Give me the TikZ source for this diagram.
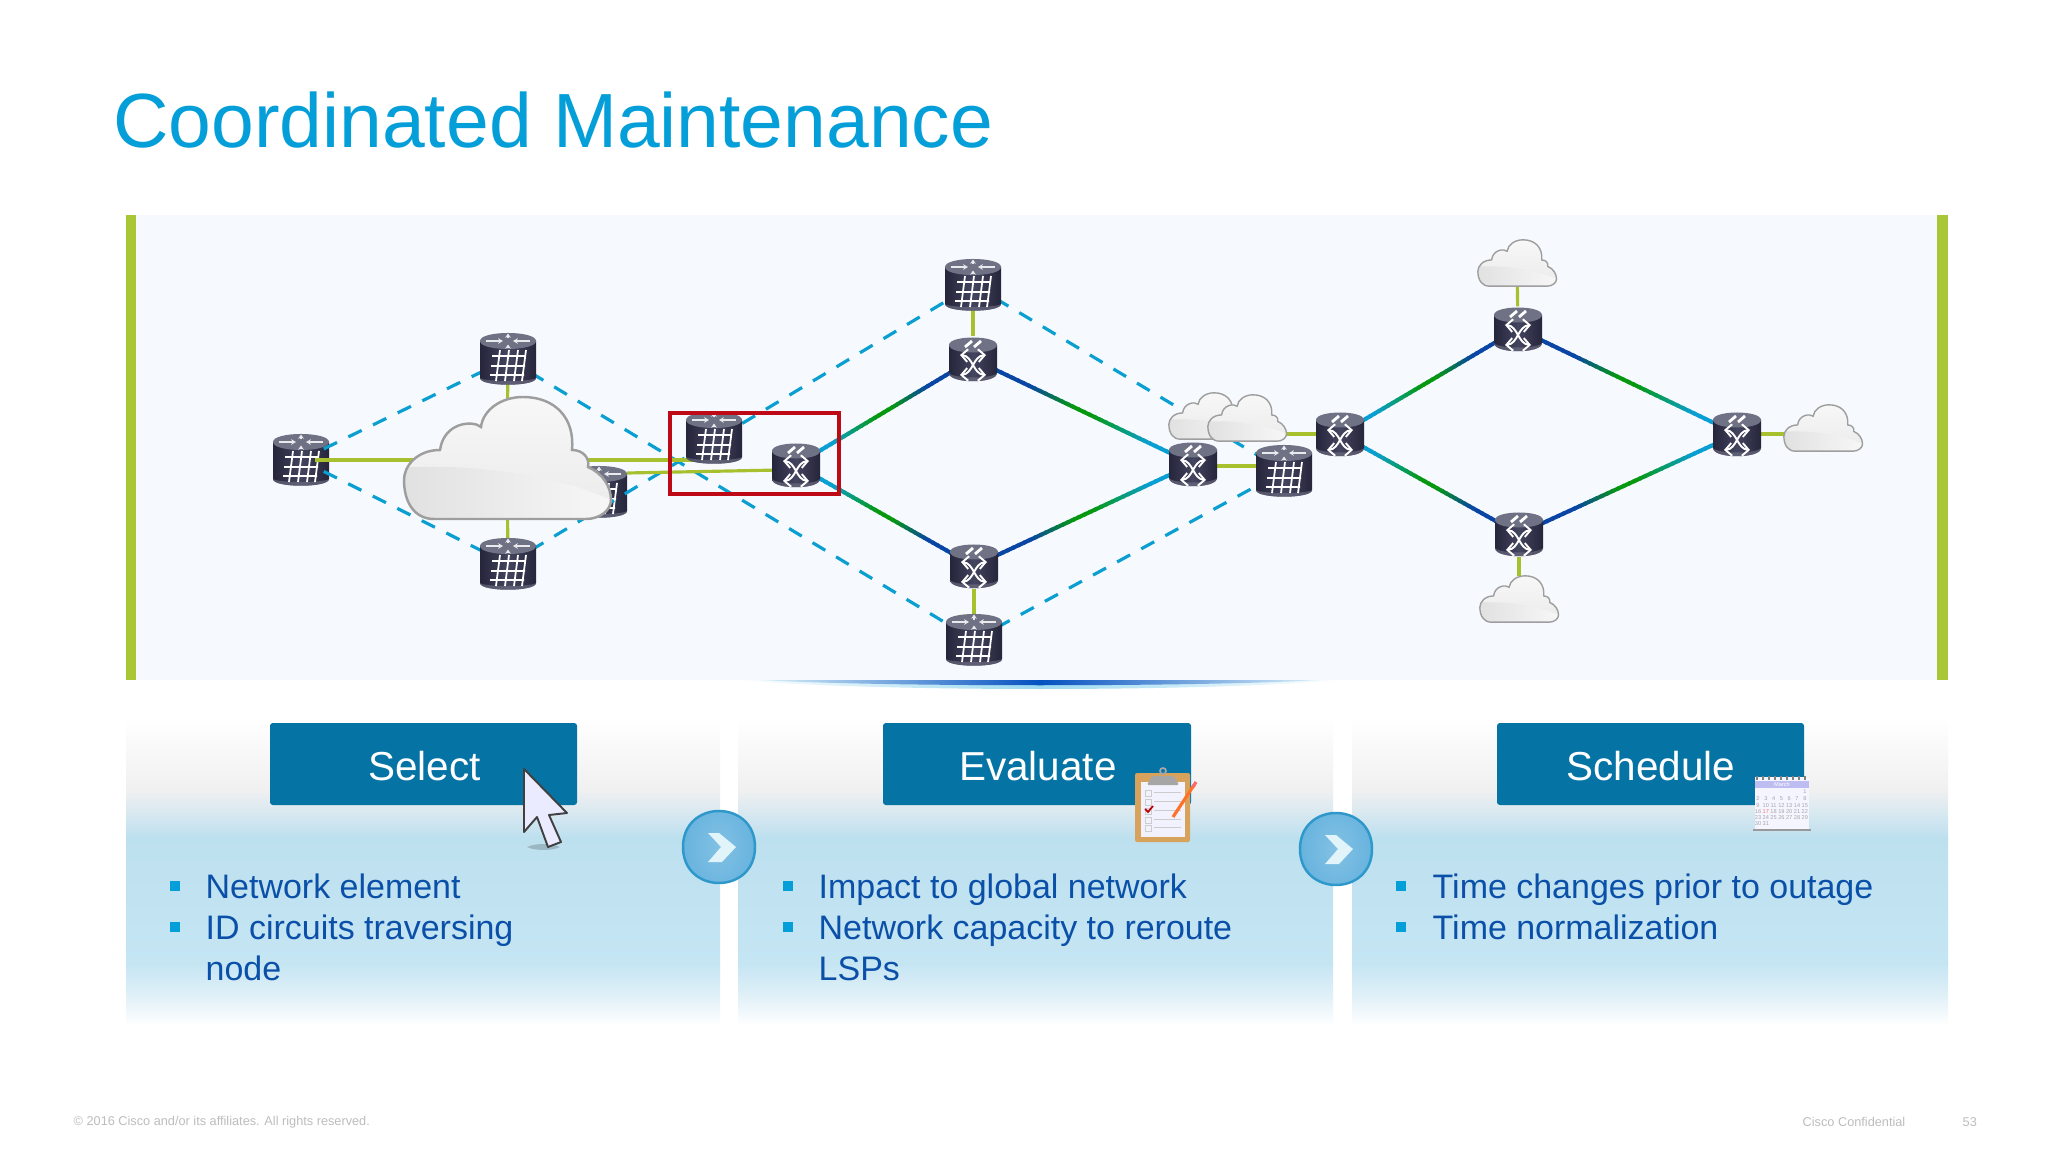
\documentclass[tikz,border=0pt]{standalone}
\usepackage{fontspec}
\setmainfont{Liberation Sans}
\usetikzlibrary{calc,arrows.meta}

\definecolor{ciscoblue}{HTML}{049FD9}
\definecolor{bodyblue}{HTML}{0B50A8}
\definecolor{btnblue}{HTML}{0673A5}
\definecolor{lime}{HTML}{A6C02E}
\definecolor{limebar}{HTML}{A9C637}
\definecolor{panelbg}{HTML}{F6FAFE}
\definecolor{dashblue}{HTML}{0A9FD0}
\definecolor{boxred}{HTML}{BE0A16}
\definecolor{gcyan}{HTML}{0A9FD3}
\definecolor{ggreen}{HTML}{06990F}
\definecolor{gnavy}{HTML}{0845A5}
\definecolor{footgrey}{HTML}{BDBDBD}
\definecolor{stepgrey}{HTML}{F0F0F1}
\definecolor{stepblue}{HTML}{BDE0EF}
\definecolor{stepblueb}{HTML}{C5E5F3}
\definecolor{stepbluec}{HTML}{E2F1F8}
\definecolor{devdark}{HTML}{25263B}
\definecolor{devmid}{HTML}{43445E}
\definecolor{devtop}{HTML}{6F7284}
\definecolor{arrowfill}{HTML}{6DB6E0}
\definecolor{arrowrim}{HTML}{2E98CB}
\definecolor{boardtan}{HTML}{D7A35C}

% connector with three colour stops, drawn as short pieces between two nodes
\newcommand{\gradlink}[5]{%
  \foreach \i in {0,...,39}{%
    \pgfmathsetmacro\ta{\i/40}%
    \pgfmathsetmacro\tb{min((\i+1.4)/40,1)}%
    \pgfmathsetmacro\tm{(\i+.5)/40}%
    \pgfmathtruncatemacro\mixa{max(0,min(100,(0.46-\tm)/0.2*100))}%
    \pgfmathtruncatemacro\mixb{max(0,min(100,(\tm-0.54)/0.26*100))}%
    \ifnum\i<20
      \draw[gradline,color={#3!\mixa!#4}] ($(#1.center)!\ta!(#2.center)$) -- ($(#1.center)!\tb!(#2.center)$);
    \else
      \draw[gradline,color={#5!\mixb!#4}] ($(#1.center)!\ta!(#2.center)$) -- ($(#1.center)!\tb!(#2.center)$);
    \fi
  }%
}

\tikzset{
  x=0.01cm, y=-0.01cm,
  dev/.style={rectangle,draw=none,inner sep=0pt,minimum size=0.44cm},
  dashlink/.style={dashblue,line width=0.9pt,dash pattern=on 4.2pt off 3.6pt},
  limelink/.style={lime,line width=0.9pt},
  gradline/.style={line width=1.15pt},
  title/.style={font=\fontsize{21.85}{26}\selectfont,text=ciscoblue,inner sep=0pt,anchor=west},
  button/.style={fill=btnblue,rounded corners=0.8pt},
  btntext/.style={font=\fontsize{11.5}{14}\selectfont,text=white,inner sep=0pt},
  item/.style={font=\fontsize{9.66}{11.66}\selectfont,text=bodyblue,inner sep=0pt,anchor=north west,align=left},
  foot/.style={font=\fontsize{3.62}{4}\selectfont,text=footgrey,inner sep=0pt,anchor=west},
  calnum/.style={font=\fontsize{1.6}{2}\selectfont,text=#1,inner sep=0pt},
  pics/router/.style={code={
    \shade[left color=devdark,right color=devdark,middle color=devmid]
      (-28,-18) -- (-28,19) .. controls (-28,28) and (28,28) .. (28,19) -- (28,-18) -- cycle;
    \fill[devmid!75!white,opacity=.6] (-28,19) .. controls (-28,28) and (28,28) .. (28,19)
      .. controls (24,23) and (-24,23) .. cycle;
    \fill[devtop] (-28,-18) .. controls (-28,-28.7) and (28,-28.7) .. (28,-18)
      .. controls (28,-7.3) and (-28,-7.3) .. cycle;
    \draw[white!85!devtop,line width=.4pt,-{Stealth[length=1.4pt,width=1.6pt]}] (-22,-18) -- (-5,-18);
    \draw[white!85!devtop,line width=.4pt,-{Stealth[length=1.4pt,width=1.6pt]}] (22,-18) -- (5,-18);
    \draw[white!85!devtop,line width=.4pt,-{Stealth[length=1.2pt,width=1.6pt]}] (0,-11) -- (0,-14.5);
    \draw[white!85!devtop,line width=.4pt,-{Stealth[length=1.2pt,width=1.6pt]}] (0,-20.5) -- (0,-25.5);
    \draw[white,line width=.5pt]
      (-16,-3) -- (18,-3) (-17,7) -- (17,7) (-18,16) -- (16,16)
      (-8,-9) -- (-12,22) (1,-9) -- (-3,22) (10,-9) -- (6,22) (18,-9) -- (14,22);
  }},
  pics/switch/.style={code={
    \shade[left color=devdark,right color=devdark,middle color=devmid]
      (-24,-14) -- (-24,14) .. controls (-24,25) and (24,25) .. (24,14) -- (24,-14) -- cycle;
    \fill[devmid!75!white,opacity=.6] (-24,14) .. controls (-24,25) and (24,25) .. (24,14)
      .. controls (20,20) and (-20,20) .. cycle;
    \fill[devtop] (-24,-14) .. controls (-24,-24) and (24,-24) .. (24,-14)
      .. controls (24,-4) and (-24,-4) .. cycle;
    \draw[white,line width=.8pt] (-8,-12) -- (-1,-18) (1,-12) -- (8,-18);
    \draw[white,line width=.55pt,{Straight Barb[length=1.8pt,width=3.6pt]}-{Straight Barb[length=1.8pt,width=3.6pt]}]
      (-13,-4) .. controls (0,-3) and (0,15) .. (13,16);
    \draw[white,line width=.55pt,{Straight Barb[length=1.8pt,width=3.6pt]}-{Straight Barb[length=1.8pt,width=3.6pt]}]
      (13,-4) .. controls (0,-3) and (0,15) .. (-13,16);
  }},
  pics/cloud/.style={code={
    \def\cloudpath{(-73,61) -- (79,61) .. controls (93,61) and (104,52) .. (104,42)
      .. controls (104,28) and (95,15) .. (81,9) .. controls (83,0) and (76,-8) .. (65,-8)
      .. controls (68,-40) and (48,-61) .. (16,-61) .. controls (-6,-61) and (-24,-48) .. (-26,-31)
      .. controls (-34,-38) and (-63,-36) .. (-67,-8) .. controls (-90,-8) and (-103,8) .. (-103,22)
      .. controls (-103,45) and (-92,61) .. (-73,61) -- cycle}
    \shade[top color=white!97!black,bottom color=white!92!black] \cloudpath;
    \begin{scope}
      \clip \cloudpath;
      \shade[left color=white!88!black,right color=white!97!black]
        (-110,10) .. controls (-40,5) and (50,15) .. (110,45) -- (110,70) -- (-110,70) -- cycle;
    \end{scope}
    \draw[white!62!black,line width=#1] \cloudpath;
  }},
}

\begin{document}
\begin{tikzpicture}
\useasboundingbox (0,0) rectangle (2048,1152);
\fill[white] (0,0) rectangle (2048,1152);

\node[title] (heading) at (112.5,120) {Coordinated Maintenance};

% network panel
\fill[panelbg] (126,215) rectangle (1948,680);
\fill[limebar] (126,215) rectangle (136,680);
\fill[limebar] (1937,215) rectangle (1948,680);
\shade[left color=white,right color=white,middle color=ciscoblue!40!white]
  (735,680) -- (1342,680) .. controls (1200,692) and (880,692) .. (735,680) -- cycle;
\shade[left color=ciscoblue!15!white,right color=ciscoblue!15!white,middle color=btnblue!70!blue]
  (760,680) -- (1320,680) .. controls (1200,687) and (880,687) .. (760,680) -- cycle;

% three steps
\foreach \xa/\xb in {126/720,738/1333,1352/1948}{
  \shade[top color=white,bottom color=stepgrey] (\xa,718) rectangle (\xb,791);
  \shade[top color=stepgrey,bottom color=stepblue] (\xa,790) rectangle (\xb,838);
  \shade[top color=stepblue,bottom color=stepblueb] (\xa,837) rectangle (\xb,964);
  \shade[top color=stepblueb,bottom color=stepbluec] (\xa,963) rectangle (\xb,998);
  \shade[top color=stepbluec,bottom color=white] (\xa,997) rectangle (\xb,1026);
}
\fill[button] (270,723) rectangle (577,805);
\fill[button] (883,723) rectangle (1191,805);
\fill[button] (1497,723) rectangle (1804,805);
\node[btntext] (selectlbl) at (424.5,766) {Select};
\node[btntext] (evallbl) at (1038,766) {Evaluate};
\node[btntext] (schedlbl) at (1651,766) {Schedule};

% bullets and their texts
\foreach \bx/\by in {170/881,170/922,783/881,783/922,1396/881,1396/922}
  \fill[ciscoblue] (\bx,\by) rectangle +(10,10);
\node[item] (t1a) at (205,873) {Network element};
\node[item] (t1b) at (205,914) {ID circuits traversing\\node};
\node[item] (t2a) at (818,873) {Impact to global network};
\node[item] (t2b) at (818,914) {Network capacity to reroute\\LSPs};
\node[item] (t3a) at (1432,873) {Time changes prior to outage};
\node[item] (t3b) at (1432,914) {Time normalization};

% step arrows
\foreach \cx/\cy in {719/847,1336/849}{
  \shade[inner color=arrowfill!85!white,outer color=arrowfill!90!arrowrim]
    (\cx-36,\cy) .. controls (\cx-36,\cy-48) and (\cx+36,\cy-48) .. (\cx+36,\cy)
    .. controls (\cx+36,\cy+48) and (\cx-36,\cy+48) .. (\cx-36,\cy) -- cycle;
  \draw[arrowrim,line width=.7pt]
    (\cx-36,\cy) .. controls (\cx-36,\cy-48) and (\cx+36,\cy-48) .. (\cx+36,\cy)
    .. controls (\cx+36,\cy+48) and (\cx-36,\cy+48) .. (\cx-36,\cy) -- cycle;
  \fill[white!88!ciscoblue] (\cx-11,\cy-14) -- (\cx,\cy-14) -- (\cx+17,\cy) -- (\cx+3,\cy+15)
    -- (\cx-11,\cy+15) -- (\cx+2,\cy) -- cycle;
}

% footer
\node[foot] (copyr) at (73,1122) {© 2016 Cisco and/or its affiliates. All rights reserved.};
\node[foot] (conf) at (1802,1122) {Cisco Confidential};
\node[foot] (pageno) at (1962,1122) {53};

% device positions
\node[dev] (r1) at (301,460) {};
\node[dev] (rtop) at (508,359) {};
\node[dev] (rbot) at (508,564) {};
\node[dev] (rhid) at (599,492) {};
\node[dev] (rsel) at (714,438) {};
\node[dev] (ssel) at (796,465) {};
\node[dev] (rmt) at (973,285) {};
\node[dev] (smt) at (973,359) {};
\node[dev] (smb) at (974,566) {};
\node[dev] (rmb) at (974,640) {};
\node[dev] (scen) at (1193,464) {};
\node[dev] (rcen) at (1284,471) {};
\node[dev] (sout) at (1340,434) {};
\node[dev] (srt) at (1518,329) {};
\node[dev] (srb) at (1519,534) {};
\node[dev] (send) at (1737,434) {};
\node[dev] (cbig) at (507,458) {};
\node[dev] (cmid) at (1247,418) {};
\node[dev] (ctop) at (1517,263) {};
\node[dev] (cbot) at (1519,599) {};
\node[dev] (cend) at (1823,428) {};
\coordinate (r1port) at (315,460);
\coordinate (rselport) at (700,460);
\coordinate (rhidport) at (627,473);
\coordinate (sselport) at (780,470);
\coordinate (scenport) at (1200,466);
\coordinate (rcenport) at (1270,466);
\coordinate (cmidport) at (1270,434);
\coordinate (soutport) at (1330,434);
\coordinate (sendport) at (1745,434);
\coordinate (cendport) at (1800,434);

\pic at (rhid) {router};
\pic at (r1) {router};

% dashed ring
\draw[dashlink] (r1) -- (rtop);
\draw[dashlink] (r1) -- (rbot);
\draw[dashlink] (rtop) -- (rmb);
\draw[dashlink] (rbot) -- (rmt);
\draw[dashlink] (rmt) -- (rcen);
\draw[dashlink] (rmb) -- (rcen);

% lime links
\draw[limelink] (r1port) -- (rselport);
\draw[limelink] (rhidport) -- (sselport);
\draw[limelink] (rtop) -- (cbig);
\draw[limelink] (rbot) -- (cbig);
\draw[limelink] (rmt) -- (smt);
\draw[limelink] (smb) -- (rmb);
\draw[limelink] (scenport) -- (rcenport);
\draw[limelink] (cmidport) -- (soutport);
\draw[limelink] (ctop) -- (srt);
\draw[limelink] (srb) -- (cbot);
\draw[limelink] (sendport) -- (cendport);

% coloured paths, always from the navy end
\gradlink{smt}{ssel}{gnavy}{ggreen}{gcyan}
\gradlink{smb}{ssel}{gnavy}{ggreen}{gcyan}
\gradlink{smt}{scen}{gnavy}{ggreen}{gcyan}
\gradlink{smb}{scen}{gnavy}{ggreen}{gcyan}
\gradlink{srt}{sout}{gnavy}{ggreen}{gcyan}
\gradlink{srb}{sout}{gnavy}{ggreen}{gcyan}
\gradlink{srt}{send}{gnavy}{ggreen}{gcyan}
\gradlink{srb}{send}{gnavy}{ggreen}{gcyan}

% device icons
\foreach \d in {rtop,rbot,rsel,rmt,rmb,rcen}
  \pic at (\d) {router};
\foreach \d in {ssel,smt,smb,scen,sout,srt,srb,send}
  \pic at (\d) {switch};

% clouds
\coordinate (cmidb) at (1208,416);
\pic[scale=.38] at (cmidb) {cloud=.4pt};
\pic[scale=.38] at (cmid) {cloud=.4pt};
\pic[scale=.38] at (ctop) {cloud=.4pt};
\pic[scale=.38] at (cbot) {cloud=.4pt};
\pic[scale=.38] at (cend) {cloud=.4pt};
\pic at (cbig) {cloud=.7pt};

% selection box
\draw[boxred,line width=1.15pt] (670,413) rectangle (839,494);

% mouse pointer
\fill[black,opacity=.18] (527,847) .. controls (535,843) and (552,843) .. (560,847)
  .. controls (552,851) and (535,851) .. cycle;
\draw[fill=white!92!blue,draw=black!75,line width=.55pt,line join=round]
  (524,769) -- (567,813) -- (549,815) -- (561,842) -- (548,847) -- (537,817) -- (524,832) -- cycle;

% clipboard
\fill[boardtan,rounded corners=.6pt] (1135,773) rectangle (1190,842);
\fill[white!95!blue] (1141,782) rectangle (1185,837);
\fill[black!35,rounded corners=.4pt] (1147,785) -- (1152,776) -- (1174,776) -- (1179,785) -- cycle;
\draw[black!35,line width=.5pt] (1163,771) circle (3);
\foreach \ly in {792,801,810,819,827}{
  \draw[black!20,line width=.25pt] (1145,\ly-2) rectangle (1151,\ly+4);
  \draw[black!20,line width=.25pt] (1154,\ly) -- (1181,\ly);
}
\draw[red!75!black,line width=.5pt] (1145,809) -- (1148,812) -- (1153,806);
\draw[orange!70!red!85!white,line width=.9pt] (1173,817) -- (1194,785);
\draw[red!60!white,line width=.9pt] (1193,787) -- (1196,782);

% calendar
\fill[black!40] (1753,829) rectangle (1811,831);
\fill[white!96!blue] (1755,777) rectangle (1809,829);
\fill[blue!22!white!95!black] (1755,781) rectangle (1809,788);
\foreach \hx in {1757,1763,...,1807}
  \draw[black!50,line width=.3pt] (\hx,776) -- (\hx,780);
\node[calnum=white] (calmonth) at (1782,784.5) {March};
\node[calnum=black!35] (cal1) at (1805,792) {1};
\foreach \n [count=\k from 0] in {2,...,31}{
  \pgfmathtruncatemacro\col{mod(\k,7)}
  \pgfmathtruncatemacro\row{\k/7}
  \ifnum\n=17
    \node[calnum=red!55] (cal\n) at (1758+7.8*\col,799+6.2*\row) {\n};
  \else
    \node[calnum=black!35] (cal\n) at (1758+7.8*\col,799+6.2*\row) {\n};
  \fi
}
\end{tikzpicture}
\end{document}
